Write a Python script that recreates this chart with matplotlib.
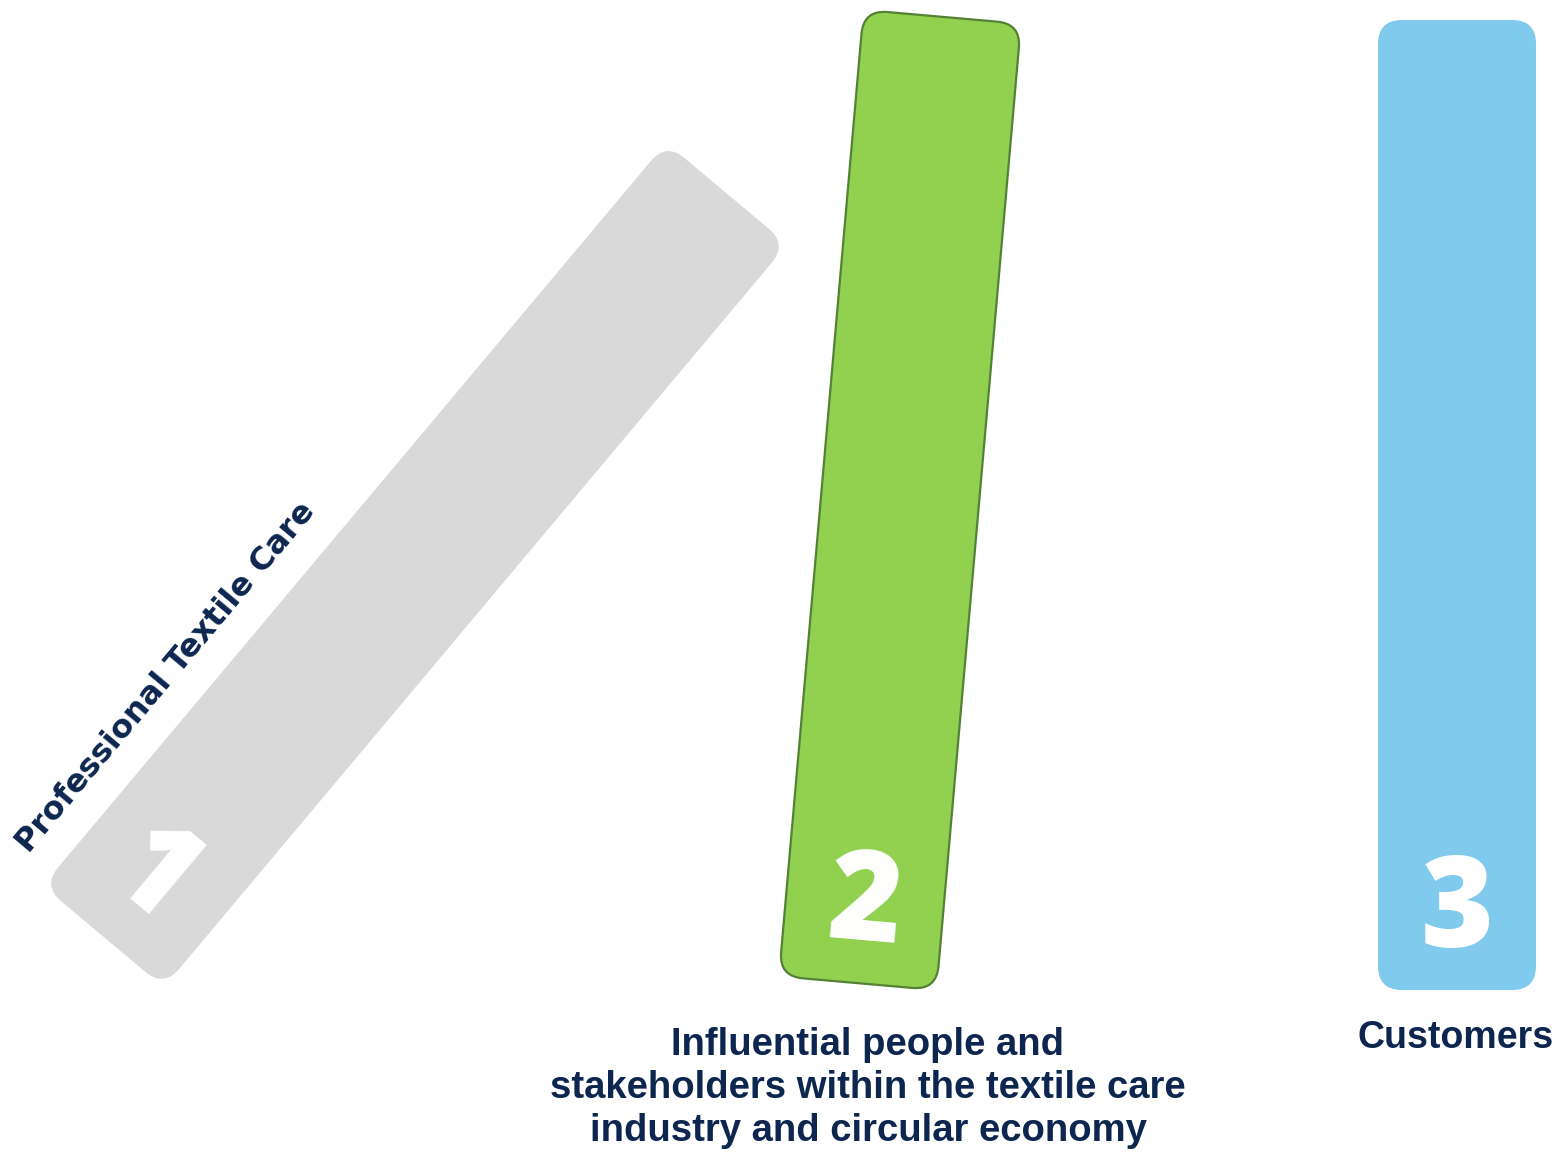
import matplotlib
matplotlib.use("Agg")
import matplotlib.pyplot as plt
from matplotlib.patches import FancyBboxPatch
from matplotlib.transforms import Affine2D
import numpy as np

# content
numbers = ["1", "2", "3"]
labels = ["Professional Textile Care",
          "Influential people and\nstakeholders within the textile care\nindustry and circular economy",
          "Customers"]

# layout (page pixels, y grows downward)
centers = [(415, 565), (900, 500), (1457, 505)]
tilts = [40, 5, 0]
fills = ["#d9d9d9", "#92d050", "#7fcaed"]
edges = ["none", "#548235", "none"]
bar_w, bar_h = 158, 970
navy = "#0c2650"

fig = plt.figure(figsize=(15.57, 11.52), dpi=100)
ax = fig.add_axes([0, 0, 1, 1])
ax.set_xlim(0, 1557)
ax.set_ylim(1152, 0)
ax.set_aspect("equal")
ax.axis("off")


def local(cx, cy, ang, dx, dy):
    # offset in bar coordinates -> page coordinates
    a = np.radians(ang)
    return cx + dx*np.cos(a) - dy*np.sin(a), cy + dx*np.sin(a) + dy*np.cos(a)


for i in range(len(numbers)):
    cx, cy = centers[i]
    ang = tilts[i]
    bar = FancyBboxPatch((cx - bar_w/2, cy - bar_h/2), bar_w, bar_h,
                         boxstyle="round,pad=0,rounding_size=24",
                         facecolor=fills[i], edgecolor=edges[i],
                         linewidth=1.6)
    bar.set_transform(Affine2D().rotate_deg_around(cx, cy, ang) + ax.transData)
    ax.add_patch(bar)

    nx, ny = local(cx, cy, ang, 0, 409)
    ax.text(nx, ny, numbers[i], color="white", fontsize=90, fontweight="heavy",
            family=["Open Sans", "DejaVu Sans"], ha="center", va="center",
            rotation=-ang, rotation_mode="anchor")

# labels
lx, ly = local(*centers[0], tilts[0], -118, 246)
ax.text(lx, ly, labels[0], color=navy, fontsize=23, fontweight="bold",
        family=["DejaVu Sans"], ha="center", va="center",
        rotation=90 - tilts[0], rotation_mode="anchor")

ax.text(868, 1088, labels[1], color=navy, fontsize=27.5, fontweight="bold",
        family=["Liberation Sans", "DejaVu Sans"], ha="center", va="center",
        linespacing=1.25, multialignment="center")
ax.text(1456, 1038, labels[2], color=navy, fontsize=27, fontweight="bold",
        family=["Liberation Sans", "DejaVu Sans"], ha="center", va="center")

fig.savefig("out.png", dpi=100)
